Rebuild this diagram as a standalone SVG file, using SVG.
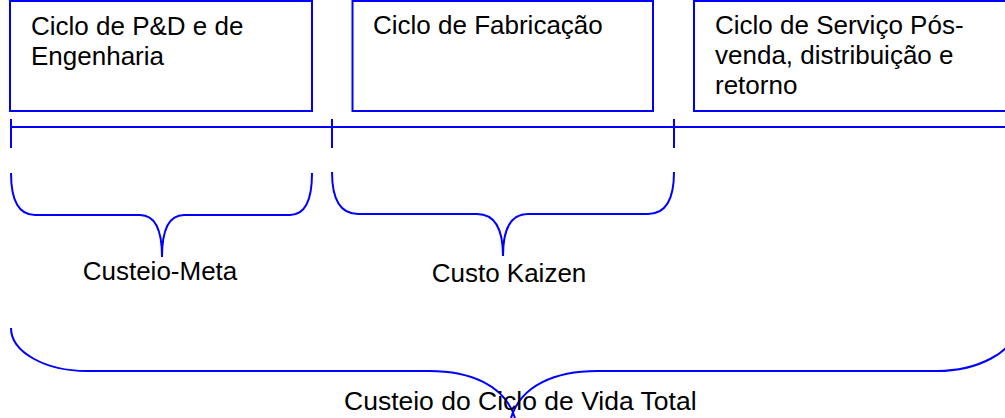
<svg xmlns="http://www.w3.org/2000/svg" width="1005" height="418" viewBox="0 0 1005 418">
<style>
.box{fill:#fff;stroke:#0000ff;stroke-width:2}
.ln{fill:none;stroke:#0000ff;stroke-width:2}
.t{font-family:"Liberation Sans",Arial,sans-serif;font-size:26px;fill:#000}
</style>
<rect width="1005" height="418" fill="#fff"/>
<g id="box-pd">
<rect class="box" x="10" y="1" width="302" height="110"/>
<text class="t" x="31" y="35">Ciclo de P&amp;D e de</text>
<text class="t" x="31" y="65">Engenharia</text>
</g>
<g id="box-fab">
<rect class="box" x="352.5" y="1" width="300.5" height="110"/>
<text class="t" x="373" y="34">Ciclo de Fabricação</text>
</g>
<g id="box-serv">
<rect class="box" x="694" y="1" width="320" height="110"/>
<text class="t" x="715" y="34">Ciclo de Serviço Pós-</text>
<text class="t" x="715" y="64">venda, distribuição e</text>
<text class="t" x="715" y="94">retorno</text>
</g>
<g id="connectors">
<path class="ln" d="M10,127 L1005,127 M11,119 L11,148 M332,119 L332,148 M674,119 L674,148"/>
<path class="ln" d="M11,173 C11,200 18,215 35,215 L140,215 C154,215 162,228 162,257 C162,228 170,215 184,215 L290,215 C305,215 312,200 312,173"/>
<path class="ln" d="M332,172 C332,200 341,214 358,214 L477,214 C493,214 503,226 503,256 C503,226 513,214 528,214 L648,214 C665,214 674,200 674,172"/>
<path class="ln" d="M11,328 C11,352 45,371 87,371 L429,371 C470,371 505,385 515,418 M511,418 C521,385 556,371 597,371 L937,371 C977,371 1015,352 1015,328"/>
</g>
<g id="label-meta"><text class="t" x="160" y="280" text-anchor="middle">Custeio-Meta</text></g>
<g id="label-kaizen"><text class="t" x="509" y="282" text-anchor="middle">Custo Kaizen</text></g>
<g id="label-total"><text class="t" x="344" y="410" style="font-size:26.5px">Custeio do Ciclo de Vida Total</text></g>
</svg>
